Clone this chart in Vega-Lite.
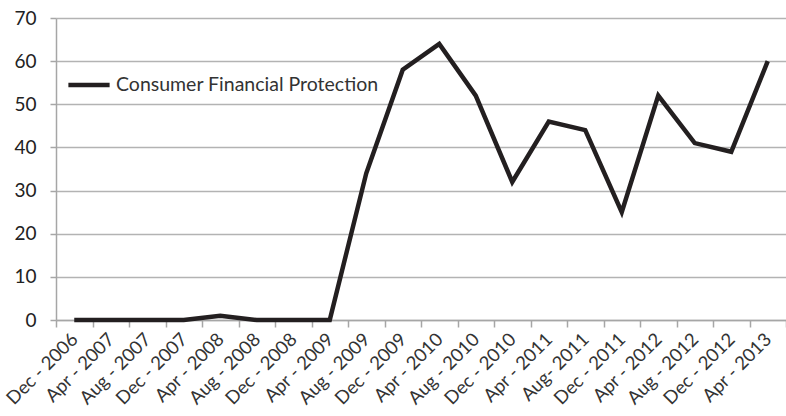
{
  "$schema": "https://vega.github.io/schema/vega-lite/v6.json",
  "autosize": "none",
  "width": 730,
  "height": 302,
  "padding": {"left": 56, "top": 18, "right": 0, "bottom": 96},
  "background": "white",
  "config": {
    "view": {"stroke": null},
    "font": "Lato",
    "axis": {"labelFont": "Lato", "labelColor": "#333333", "labelFontSize": 18, "domainColor": "#a6a6a6", "tickColor": "#a6a6a6", "gridColor": "#b3b3b3", "domainWidth": 1.5, "tickWidth": 1.5, "gridWidth": 1.5, "ticks": true}
  },
  "data": {
    "values": [
      {"period": "Dec - 2006", "count": 0, "series": "Consumer Financial Protection"},
      {"period": "Apr - 2007", "count": 0, "series": "Consumer Financial Protection"},
      {"period": "Aug - 2007", "count": 0, "series": "Consumer Financial Protection"},
      {"period": "Dec - 2007", "count": 0, "series": "Consumer Financial Protection"},
      {"period": "Apr - 2008", "count": 1, "series": "Consumer Financial Protection"},
      {"period": "Aug - 2008", "count": 0, "series": "Consumer Financial Protection"},
      {"period": "Dec - 2008", "count": 0, "series": "Consumer Financial Protection"},
      {"period": "Apr - 2009", "count": 0, "series": "Consumer Financial Protection"},
      {"period": "Aug - 2009", "count": 34, "series": "Consumer Financial Protection"},
      {"period": "Dec - 2009", "count": 58, "series": "Consumer Financial Protection"},
      {"period": "Apr - 2010", "count": 64, "series": "Consumer Financial Protection"},
      {"period": "Aug - 2010", "count": 52, "series": "Consumer Financial Protection"},
      {"period": "Dec - 2010", "count": 32, "series": "Consumer Financial Protection"},
      {"period": "Apr - 2011", "count": 46, "series": "Consumer Financial Protection"},
      {"period": "Aug- 2011", "count": 44, "series": "Consumer Financial Protection"},
      {"period": "Dec - 2011", "count": 25, "series": "Consumer Financial Protection"},
      {"period": "Apr - 2012", "count": 52, "series": "Consumer Financial Protection"},
      {"period": "Aug - 2012", "count": 41, "series": "Consumer Financial Protection"},
      {"period": "Dec - 2012", "count": 39, "series": "Consumer Financial Protection"},
      {"period": "Apr - 2013", "count": 60, "series": "Consumer Financial Protection"}
    ]
  },
  "mark": {"type": "line", "strokeWidth": 4.5, "strokeJoin": "miter"},
  "encoding": {
    "x": {
      "field": "period", "type": "ordinal", "sort": null,
      "scale": {"paddingInner": 0, "paddingOuter": 0},
      "axis": {"title": null, "labelAngle": -45, "labelAlign": "right", "labelBaseline": "middle", "tickBand": "extent", "tickSize": 7, "labelPadding": 9, "grid": false, "labelFontSize": 18.5}
    },
    "y": {
      "field": "count", "type": "quantitative",
      "scale": {"domain": [0, 70], "nice": false},
      "axis": {"title": null, "values": [0, 10, 20, 30, 40, 50, 60, 70], "ticks": true, "tickSize": 6, "tickColor": "#a6a6a6", "labelPadding": 14, "grid": true, "labelFontSize": 19, "labelAlign": "right", "labelColor": "#222222"}
    },
    "color": {
      "field": "series", "type": "nominal",
      "scale": {"range": ["#231f20"]},
      "legend": {"title": null, "orient": "none", "legendX": 10, "legendY": 44, "symbolType": "stroke", "symbolStrokeWidth": 4.5, "symbolSize": 1700, "labelFontSize": 19.5, "labelLimit": 0, "labelColor": "#333333", "labelFont": "Lato", "labelOffset": 4}
    }
  }
}
